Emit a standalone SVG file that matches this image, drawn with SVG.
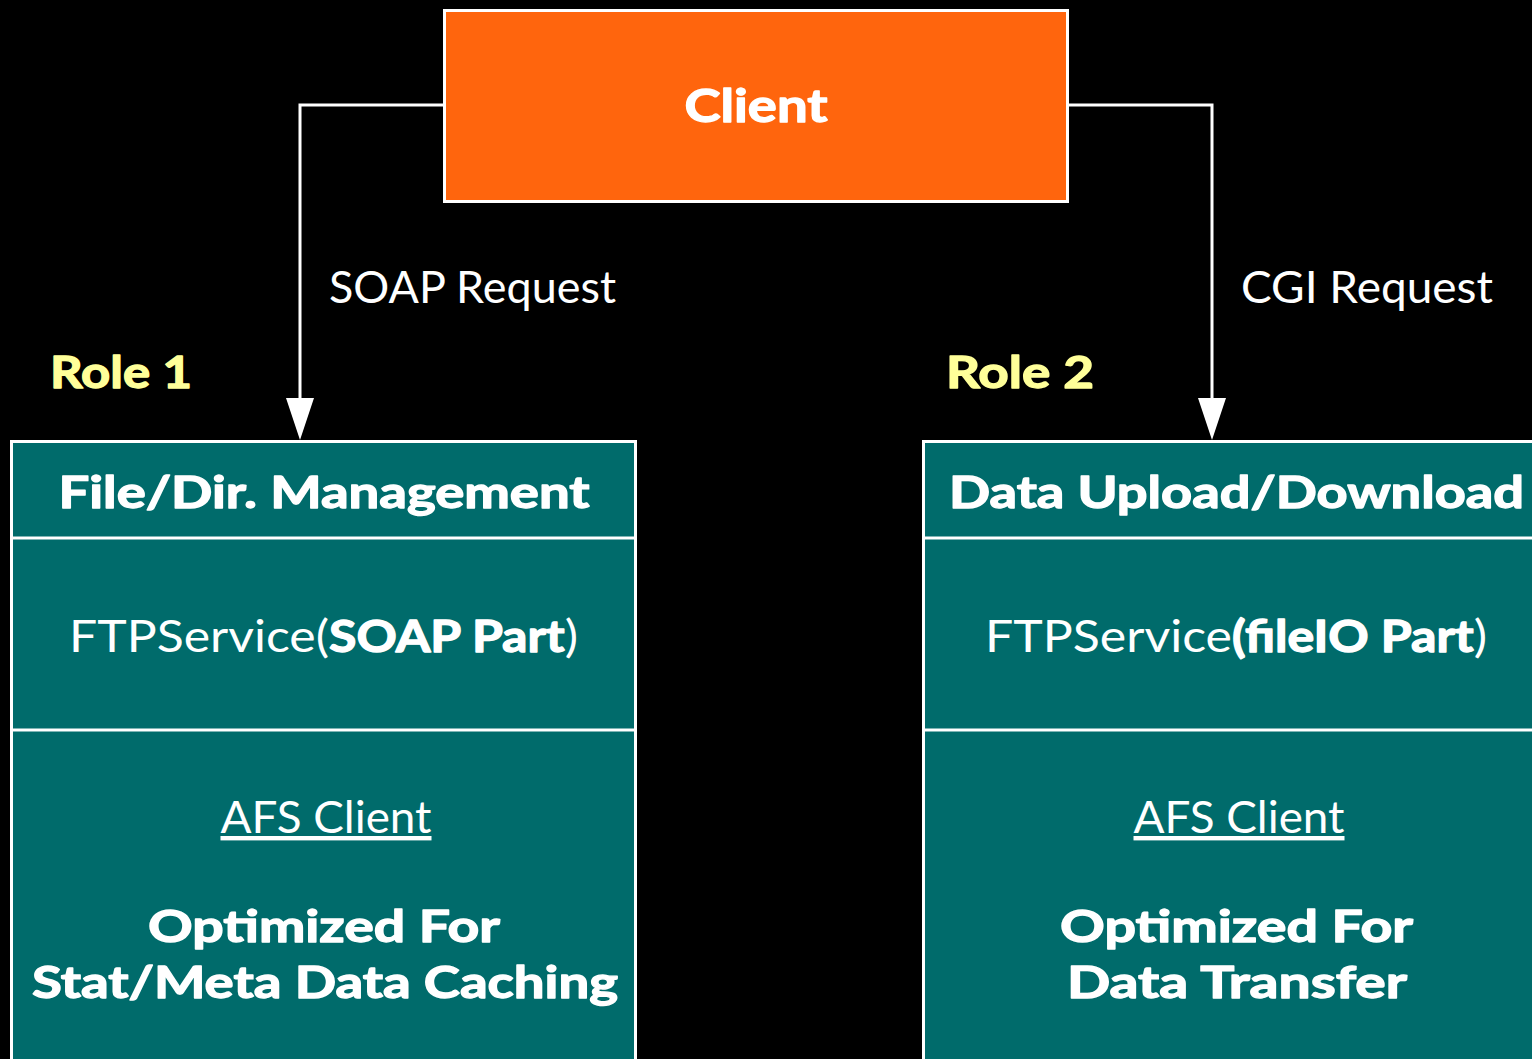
<svg xmlns="http://www.w3.org/2000/svg" width="1532" height="1059" viewBox="0 0 1532 1059">
  <style>
    text { font-family: Lato, "Open Sans", "Liberation Sans", sans-serif; fill: #ffffff; }
    .b { font-weight: 700; stroke: #ffffff; stroke-width: 1.3; stroke-linejoin: round; }
    .r { font-weight: 400; stroke: none; }
    .role { font-weight: 700; fill: #ffff99; stroke: #ffff99; stroke-width: 1.3; stroke-linejoin: round; font-size: 44px; }
    .panel { fill: #006b6b; stroke: #ffffff; stroke-width: 3; }
    .rule { stroke: #ffffff; stroke-width: 3; }
    .wire { fill: none; stroke: #ffffff; stroke-width: 3; }
    .head { fill: #ffffff; }
  </style>
  <rect width="1532" height="1059" fill="#000000"/>

  <!-- client -->
  <g id="client">
    <rect x="444.5" y="10.5" width="623" height="191" fill="#ff650d" stroke="#ffffff" stroke-width="3"/>
    <text class="b" x="756" y="122" font-size="46" text-anchor="middle" textLength="143" lengthAdjust="spacingAndGlyphs">Client</text>
  </g>

  <!-- request paths -->
  <g id="connectors">
    <path class="wire" d="M443,105 H300 V400"/>
    <polygon class="head" points="286,398 314,398 300,440"/>
    <path class="wire" d="M1069,105 H1212 V400"/>
    <polygon class="head" points="1198,398 1226,398 1212,440"/>
    <text class="r" x="329" y="303" font-size="44" textLength="287" lengthAdjust="spacingAndGlyphs">SOAP Request</text>
    <text class="r" x="1241" y="303" font-size="44" textLength="252" lengthAdjust="spacingAndGlyphs">CGI Request</text>
  </g>

  <!-- role 1 -->
  <g id="role1">
    <text class="role" x="50" y="388" textLength="142" lengthAdjust="spacingAndGlyphs">Role 1</text>
    <rect class="panel" x="11.5" y="441.5" width="624" height="700"/>
    <line class="rule" x1="11" y1="538" x2="636" y2="538"/>
    <line class="rule" x1="11" y1="730" x2="636" y2="730"/>
    <text class="b" x="324" y="508" font-size="44" text-anchor="middle" textLength="531" lengthAdjust="spacingAndGlyphs">File/Dir. Management</text>
    <text x="69" y="652" font-size="44" textLength="509" lengthAdjust="spacingAndGlyphs"><tspan class="r">FTPService(</tspan><tspan class="b">SOAP Part</tspan><tspan class="r">)</tspan></text>
    <text class="r" x="326" y="833" font-size="44" text-anchor="middle" text-decoration="underline" textLength="211" lengthAdjust="spacingAndGlyphs">AFS Client</text>
    <text class="b" x="324" y="942" font-size="44" text-anchor="middle" textLength="352" lengthAdjust="spacingAndGlyphs">Optimized For</text>
    <text class="b" x="325" y="998" font-size="44" text-anchor="middle" textLength="586" lengthAdjust="spacingAndGlyphs">Stat/Meta Data Caching</text>
  </g>

  <!-- role 2 -->
  <g id="role2">
    <text class="role" x="946" y="388" textLength="148" lengthAdjust="spacingAndGlyphs">Role 2</text>
    <rect class="panel" x="923.5" y="441.5" width="624" height="700"/>
    <line class="rule" x1="923" y1="538" x2="1548" y2="538"/>
    <line class="rule" x1="923" y1="730" x2="1548" y2="730"/>
    <text class="b" x="1236.5" y="508" font-size="44" text-anchor="middle" textLength="575" lengthAdjust="spacingAndGlyphs">Data Upload/Download</text>
    <text x="985" y="652" font-size="44" textLength="502" lengthAdjust="spacingAndGlyphs"><tspan class="r">FTPService</tspan><tspan class="b">(fileIO Part</tspan><tspan class="r">)</tspan></text>
    <text class="r" x="1239" y="833" font-size="44" text-anchor="middle" text-decoration="underline" textLength="211" lengthAdjust="spacingAndGlyphs">AFS Client</text>
    <text class="b" x="1236.5" y="942" font-size="44" text-anchor="middle" textLength="353" lengthAdjust="spacingAndGlyphs">Optimized For</text>
    <text class="b" x="1237" y="998" font-size="44" text-anchor="middle" textLength="340" lengthAdjust="spacingAndGlyphs">Data Transfer</text>
  </g>
</svg>
